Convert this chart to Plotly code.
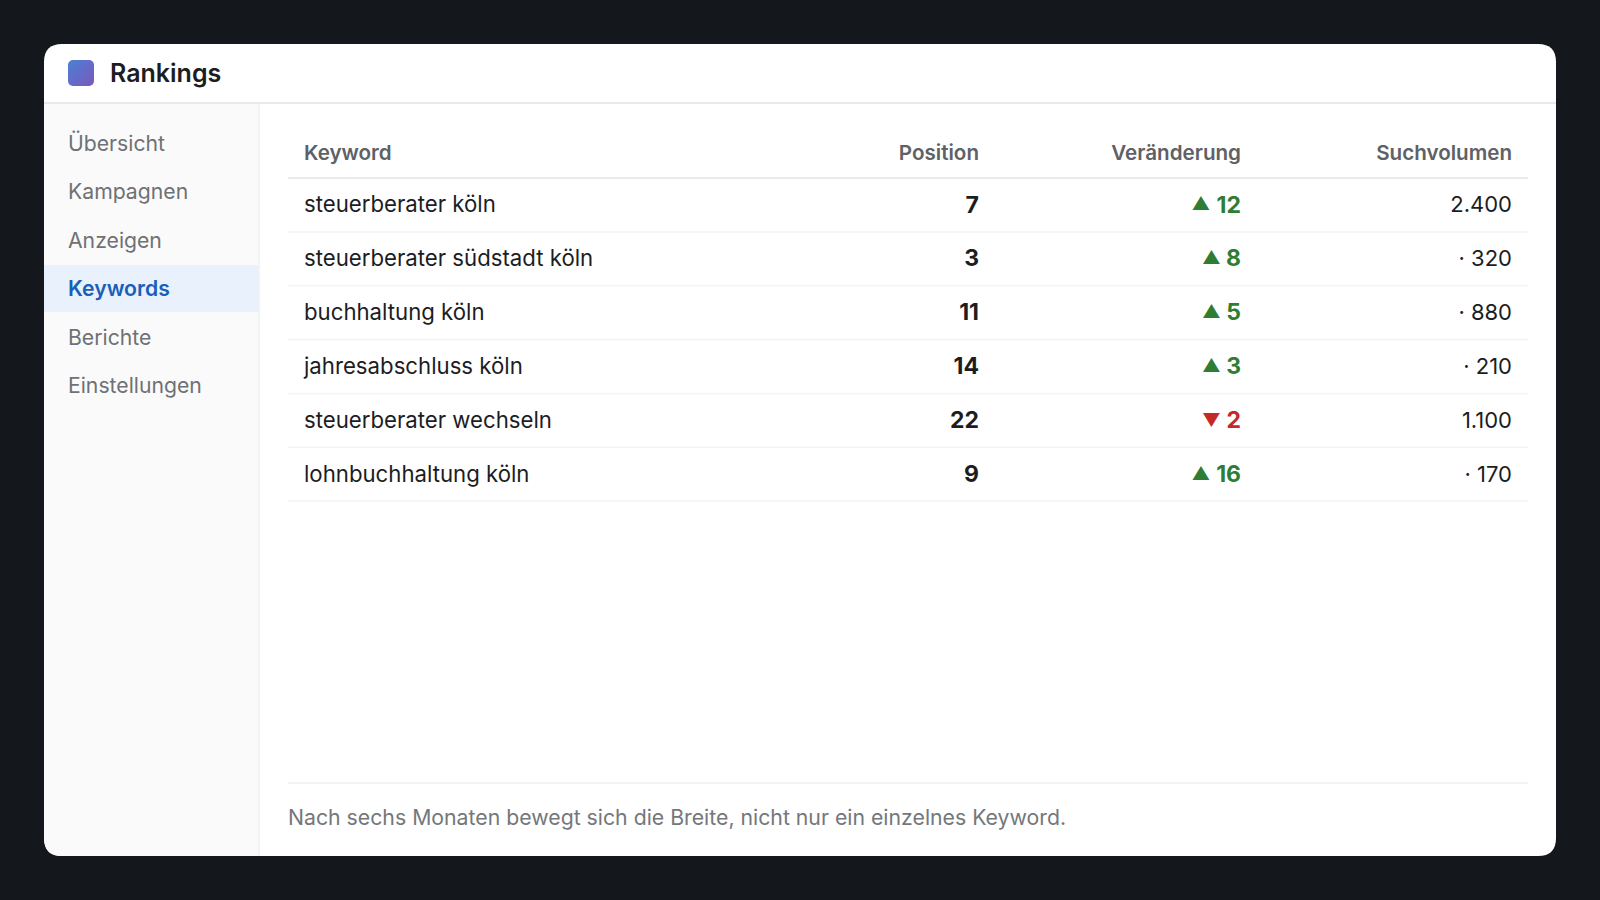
import base64
import plotly.graph_objects as go

# ---- data ----
TITLE = "Rankings"
NAV_ITEMS = ["Übersicht", "Kampagnen", "Anzeigen", "Keywords", "Berichte", "Einstellungen"]
ACTIVE_NAV = "Keywords"
COLUMNS = ["Keyword", "Position", "Veränderung", "Suchvolumen"]
KEYWORDS = ["steuerberater köln", "steuerberater südstadt köln", "buchhaltung köln",
            "jahresabschluss köln", "steuerberater wechseln", "lohnbuchhaltung köln"]
POSITIONS = [7, 3, 11, 14, 22, 9]
CHANGES = [12, 8, 5, 3, -2, 16]
VOLUMES = ["2.400", "· 320", "· 880", "· 210", "1.100", "· 170"]
FOOTNOTE = "Nach sechs Monaten bewegt sich die Breite, nicht nur ein einzelnes Keyword."

# ---- layout constants ----
W, H = 1600, 900
FONT = "Inter"
BG = "#14181c"
CARD = (44, 44, 1556, 856)
R = 18
HEAD_Y = 103
SIDE_X = 259
NAV_Y0, NAV_STEP = 145.5, 48.5
ROW_Y0, ROW_STEP = 206.8, 53.9
RULE0, RULE_STEP = 232, 53.8
X_KEY, X_POS, X_CHG, X_VOL = 304, 979, 1241, 1512
T_L, T_R = 288, 1528
ARROW_ONE, ARROW_TWO = 1211.5, 1201
GREEN, RED = "#2e7d32", "#c62828"

fig = go.Figure()

def text_trace(xs, ys, texts, pos, size, color, weight=400):
    fig.add_trace(go.Scatter(
        x=xs, y=ys, text=texts, mode="text", textposition=pos, hoverinfo="skip",
        showlegend=False, cliponaxis=False,
        textfont=dict(family=FONT, size=size, color=color, weight=weight)))

rows = [ROW_Y0 + i * ROW_STEP for i in range(len(KEYWORDS))]

# title
text_trace([110], [76], [TITLE], "middle right", 25, "#1c1d1f", 600)

# nav
for i, item in enumerate(NAV_ITEMS):
    active = item == ACTIVE_NAV
    text_trace([68], [NAV_Y0 + i * NAV_STEP], [item], "middle right", 21.2,
               "#1a5fb9" if active else "#6e7175", 600 if active else 400)

# header
for col, x, pos in zip(COLUMNS, [X_KEY, X_POS, X_CHG, X_VOL],
                       ["middle right", "middle left", "middle left", "middle left"]):
    text_trace([x], [155], [col], pos, 20.6, "#5e6165", 600)

# rows
text_trace([X_KEY] * len(rows), rows, KEYWORDS, "middle right", 22.2, "#1c1d1f")
text_trace([X_POS] * len(rows), rows, [str(p) for p in POSITIONS], "middle left", 23, "#1c1d1f", 700)
for y, c in zip(rows, CHANGES):
    col = GREEN if c >= 0 else RED
    text_trace([X_CHG], [y], [str(abs(c))], "middle left", 23, col, 700)
    ax = ARROW_TWO if abs(c) >= 10 else ARROW_ONE
    text_trace([ax], [y - 1], ["▲" if c >= 0 else "▼"], "middle center", 18, col, 700)
text_trace([X_VOL] * len(rows), rows, VOLUMES, "middle left", 22, "#1c1d1f")

# footnote
text_trace([288], [820], [FOOTNOTE], "middle right", 21.25, "#74777b")

x0, y0, x1, y1 = CARD
card_path = (f"M{x0+R},{y0} L{x1-R},{y0} Q{x1},{y0} {x1},{y0+R} L{x1},{y1-R} Q{x1},{y1} {x1-R},{y1} "
             f"L{x0+R},{y1} Q{x0},{y1} {x0},{y1-R} L{x0},{y0+R} Q{x0},{y0} {x0+R},{y0} Z")
side_path = (f"M{x0},{HEAD_Y} L{SIDE_X},{HEAD_Y} L{SIDE_X},{y1} L{x0+R},{y1} Q{x0},{y1} {x0},{y1-R} Z")
shapes = [
    dict(type="path", path=card_path, fillcolor="#ffffff", line_width=0, layer="below"),
    dict(type="path", path=side_path, fillcolor="#fafafa", line_width=0, layer="below"),
    dict(type="rect", x0=x0, x1=SIDE_X, y0=265, y1=312, fillcolor="#e9f1fc", line_width=0, layer="below"),
    dict(type="line", x0=x0, x1=x1, y0=HEAD_Y, y1=HEAD_Y, line=dict(color="#e8e9ea", width=2), layer="below"),
    dict(type="line", x0=SIDE_X, x1=SIDE_X, y0=HEAD_Y, y1=y1, line=dict(color="#eff0f1", width=1.5), layer="below"),
    dict(type="line", x0=T_L, x1=T_R, y0=178, y1=178, line=dict(color="#e9eaeb", width=2), layer="below"),
    dict(type="line", x0=T_L, x1=T_R, y0=783, y1=783, line=dict(color="#eeeff0", width=1.5), layer="below"),
]
for i in range(len(KEYWORDS)):
    yy = RULE0 + i * RULE_STEP
    shapes.append(dict(type="line", x0=T_L, x1=T_R, y0=yy, y1=yy,
                       line=dict(color="#f2f3f4", width=1.5), layer="below"))

svg = ('<svg xmlns="http://www.w3.org/2000/svg" width="26" height="26"><defs>'
       '<linearGradient id="g" x1="0" y1="0" x2="1" y2="1"><stop offset="0" stop-color="#4a80d4"/>'
       '<stop offset="1" stop-color="#7c58bc"/></linearGradient></defs>'
       '<rect width="26" height="26" rx="5" fill="url(#g)"/></svg>')
logo = "data:image/svg+xml;base64," + base64.b64encode(svg.encode()).decode()

fig.update_layout(
    width=W, height=H, margin=dict(l=0, r=0, t=0, b=0),
    paper_bgcolor=BG, plot_bgcolor=BG, showlegend=False, shapes=shapes,
    xaxis=dict(range=[0, W], visible=False, fixedrange=True),
    yaxis=dict(range=[H, 0], visible=False, fixedrange=True),
    images=[dict(source=logo, xref="x", yref="y", x=68, y=60, sizex=26, sizey=26,
                 xanchor="left", yanchor="top", layer="above", sizing="stretch")],
)

fig.write_html("out.html", config={"displayModeBar": False},
               post_script="document.body.style.margin='0';document.body.style.background='%s';" % BG)
